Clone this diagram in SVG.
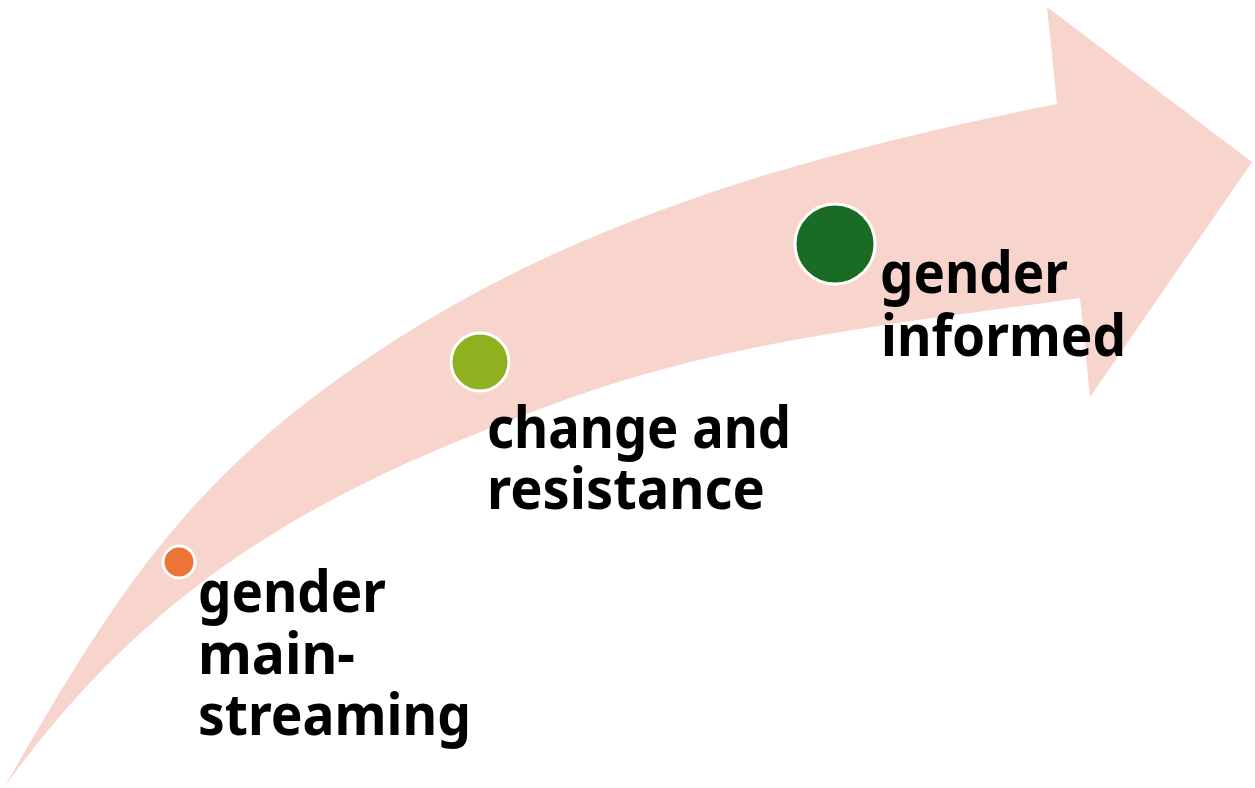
<svg xmlns="http://www.w3.org/2000/svg" width="1255" height="788" viewBox="0 0 1255 788">
<style>
.lbl{font-family:"Noto Sans","Open Sans","DejaVu Sans",sans-serif;font-weight:700;font-size:58px;fill:#000}
.dot{stroke:#fff;stroke-width:3}
</style>
<rect width="1255" height="788" fill="#fff"/>
<g id="arrow">
<path d="M5,786 C125,577 198,466 400,337 C596,212 830,149 1057,104 L1047,7 L1252,162 L1090,397 L1080,298 C910,322 735,339 573,397 C328,485 158,575 5,786 Z" fill="#F7D5CD"/>
</g>
<g id="connectors"></g>
<g id="node-mainstreaming">
<circle class="dot" cx="179" cy="562" r="16" fill="#EC7436"/>
<text class="lbl"><tspan x="198" y="612" textLength="188" lengthAdjust="spacingAndGlyphs">gender</tspan><tspan x="198" y="674" textLength="157" lengthAdjust="spacingAndGlyphs">main-</tspan><tspan x="198" y="735" textLength="273" lengthAdjust="spacingAndGlyphs">streaming</tspan></text>
</g>
<g id="node-change">
<circle class="dot" cx="480" cy="362" r="29" fill="#8EB021"/>
<text class="lbl"><tspan x="487" y="448" textLength="304" lengthAdjust="spacingAndGlyphs">change and</tspan><tspan x="487" y="509" textLength="278" lengthAdjust="spacingAndGlyphs">resistance</tspan></text>
</g>
<g id="node-informed">
<circle class="dot" cx="835" cy="244" r="40" fill="#1A6B24"/>
<text class="lbl"><tspan x="880" y="293" textLength="188" lengthAdjust="spacingAndGlyphs">gender</tspan><tspan x="881" y="356" textLength="245" lengthAdjust="spacingAndGlyphs">informed</tspan></text>
</g>
</svg>
